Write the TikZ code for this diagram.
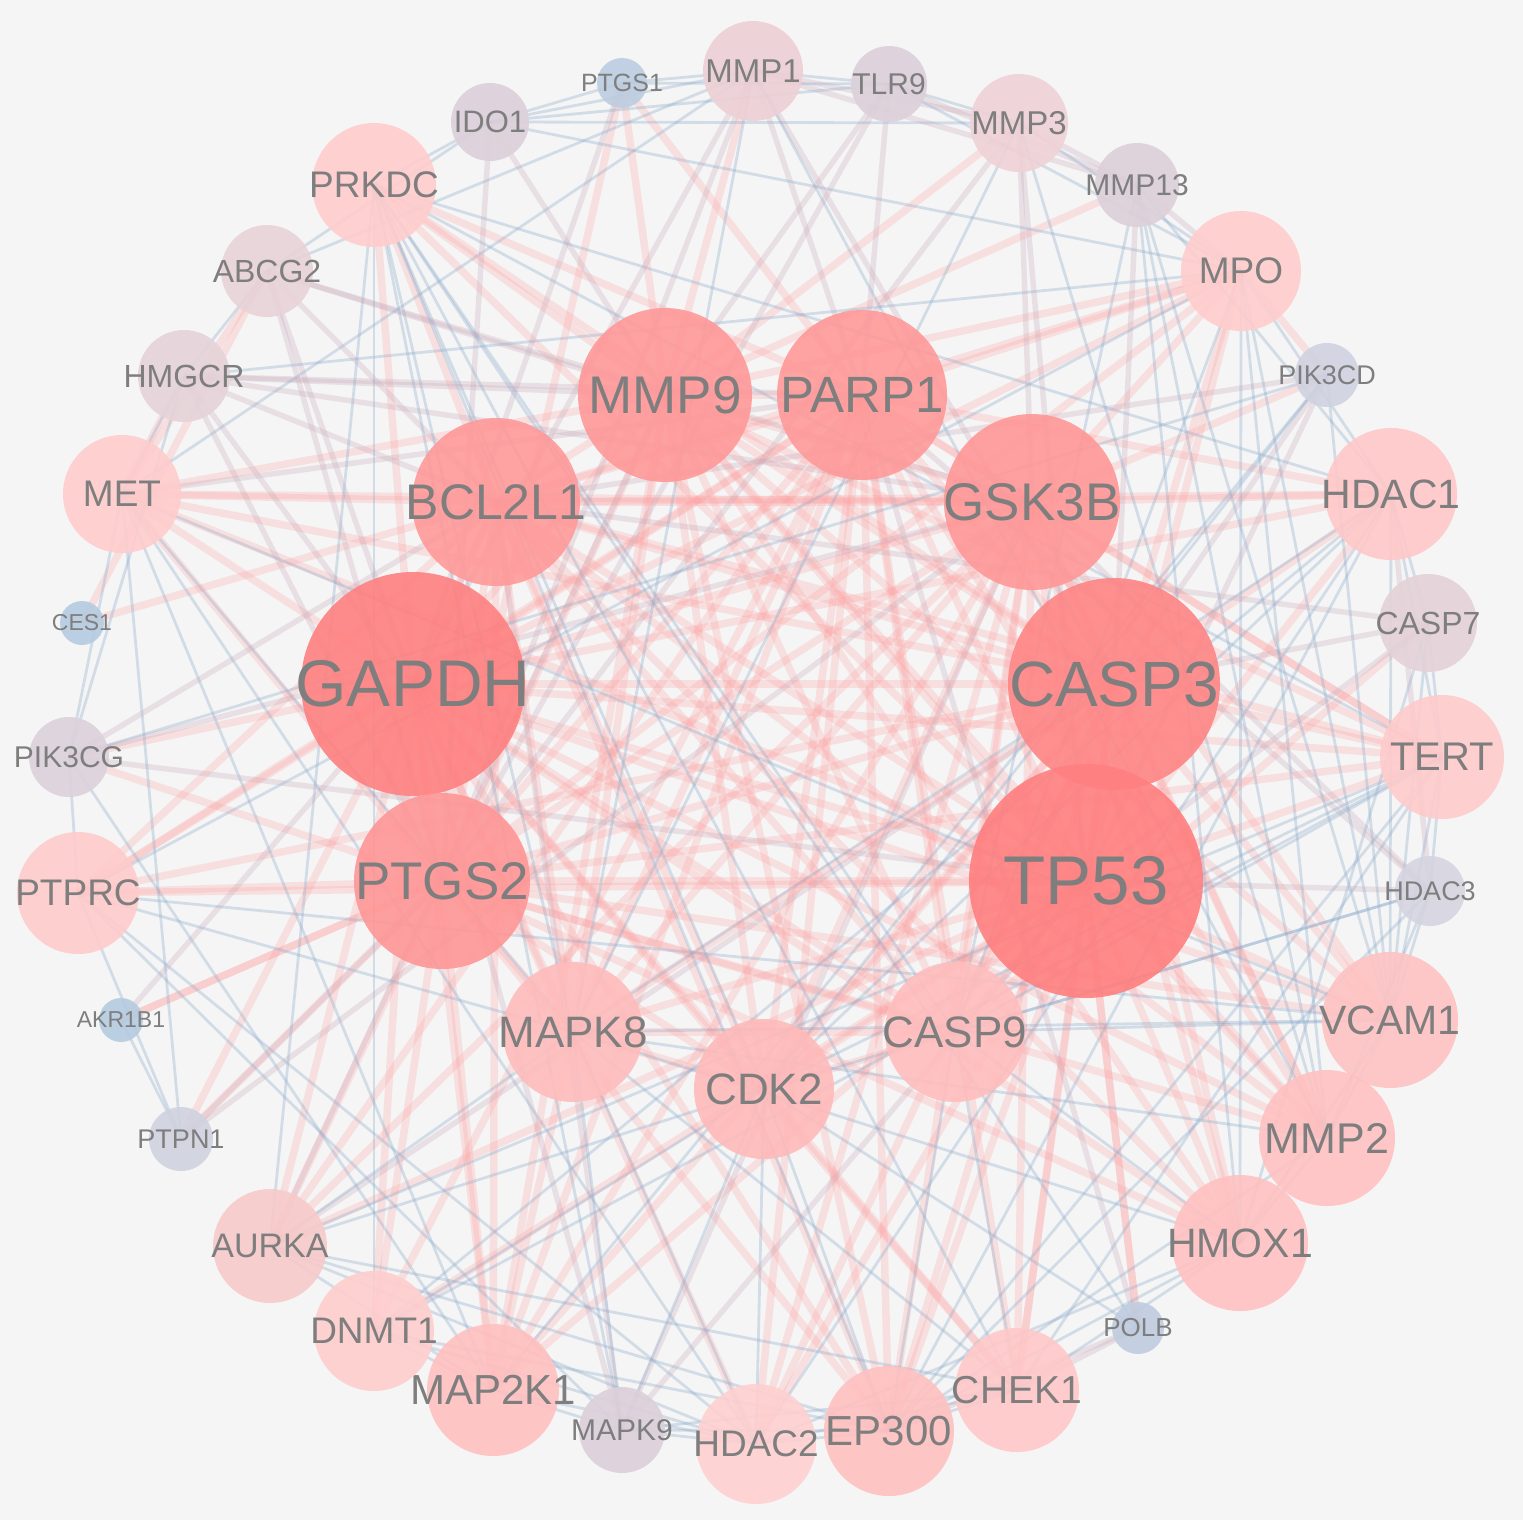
\documentclass[tikz,border=0pt]{standalone}
\usepackage{fontspec}
\setmainfont{Liberation Sans}
\pgfdeclarelayer{back}
\pgfdeclarelayer{edges}
\pgfsetlayers{back,edges,main}
\definecolor{bgc}{HTML}{F5F5F5}
\definecolor{txt}{HTML}{7E7E7E}
\definecolor{pkc}{HTML}{FF9C9C}
\definecolor{mvc}{HTML}{C8A8B8}
\definecolor{blc}{HTML}{8AAACC}
\tikzset{
  gnode/.style={circle, draw=none, inner sep=0pt, outer sep=0pt, fill opacity=0.9, text opacity=1, text=txt},
  pk/.style={line width=7.5pt, draw=pkc, draw opacity=0.24},
  mv/.style={line width=5.5pt, draw=mvc, draw opacity=0.28},
  bl/.style={line width=2.8pt, draw=blc, draw opacity=0.32},
}
\newcommand\gn[7]{%
  \definecolor{c#1}{HTML}{#5}%
  \node[gnode, fill=c#1, minimum size={2*#4pt}, font={\fontsize{#6pt}{#6pt}\selectfont}] (#1) at (#2,#3) {\makebox[0pt]{#7}};}
\begin{document}
\begin{tikzpicture}[x=1pt,y=-1pt]
\begin{pgfonlayer}{back}
\fill[bgc] (0,0) rectangle (1523,1520);
\end{pgfonlayer}
\useasboundingbox (0,0) rectangle (1523,1520);
% hubs
\gn{gapdh}{413}{684}{112}{FF8080}{66}{GAPDH}
\gn{casp3}{1114}{684}{106}{FF8585}{64}{CASP3}
\gn{tp53}{1086}{881}{117}{FF7F7F}{69}{TP53}
\gn{ptgs2}{442}{881}{88}{FF9696}{53}{PTGS2}
\gn{bcl}{496}{502}{84}{FF9999}{50}{BCL2L1}
\gn{mmp9}{665}{395}{87}{FF9898}{53}{MMP9}
\gn{parp1}{862}{395}{85}{FF9999}{51}{PARP1}
\gn{gsk}{1032}{502}{88}{FF9797}{53}{GSK3B}
% mid
\gn{mapk8}{573}{1032}{70}{FFBCBC}{44}{MAPK8}
\gn{casp9}{955}{1032}{70}{FFBDBD}{44}{CASP9}
\gn{cdk2}{764}{1089}{70}{FFBABA}{44}{CDK2}
% medium
\gn{prkdc}{374}{185}{62}{FFCDCD}{37}{PRKDC}
\gn{mpo}{1241}{271}{60}{FFCDCD}{37}{MPO}
\gn{met}{122}{494}{59}{FFCCCC}{37}{MET}
\gn{hdac1}{1391}{494}{66}{FFC8C8}{41}{HDAC1}
\gn{tert}{1442}{757}{62}{FFCBCB}{40}{TERT}
\gn{ptprc}{78}{893}{61}{FFCBCB}{37}{PTPRC}
\gn{vcam}{1390}{1020}{68}{FFC3C3}{41}{VCAM1}
\gn{mmp2}{1327}{1138}{68}{FFC1C1}{43}{MMP2}
\gn{hmox}{1240}{1243}{68}{FFC1C1}{41}{HMOX1}
\gn{chek1}{1017}{1390}{62}{FFC8C8}{39}{CHEK1}
\gn{ep300}{889}{1431}{65}{FFC0C0}{42}{EP300}
\gn{hdac2}{756}{1444}{60}{FFD0D0}{37}{HDAC2}
\gn{map2k1}{493}{1390}{66}{FFC0C0}{42}{MAP2K1}
\gn{dnmt1}{374}{1331}{60}{FFCECE}{37}{DNMT1}
\gn{aurka}{270}{1246}{57}{F8CACA}{34}{AURKA}
% small
\gn{mmp1}{753}{71}{50}{EDD0D5}{33}{MMP1}
\gn{mmp3}{1019}{123}{49}{EFD2D6}{33}{MMP3}
\gn{abcg2}{267}{271}{46}{E8D3D9}{32}{ABCG2}
\gn{hmgcr}{184}{376}{46}{E5D3D9}{32}{HMGCR}
\gn{casp7}{1428}{623}{49}{E4D2D8}{32}{CASP7}
\gn{pik3cg}{69}{757}{40}{DCD1DC}{30}{PIK3CG}
\gn{mapk9}{622}{1430}{43}{DCD0DA}{30}{MAPK9}
\gn{tlr9}{889}{84}{38}{DCD0DA}{30}{TLR9}
\gn{ido1}{490}{122}{39}{DCD0DA}{31}{IDO1}
\gn{mmp13}{1137}{185}{42}{DDD0D9}{30}{MMP13}
\gn{hdac3}{1430}{891}{35}{D5D4E0}{27}{HDAC3}
\gn{ptpn1}{181}{1139}{32}{D0D2DF}{27}{PTPN1}
\gn{pik3cd}{1327}{375}{32}{D0D2E0}{27}{PIK3CD}
\gn{ptgs1}{622}{83}{25}{BCCDE0}{25}{PTGS1}
\gn{ces1}{82}{623}{22}{B5CBE0}{23}{CES1}
\gn{akr1b1}{121}{1020}{22}{B5CBE0}{23}{AKR1B1}
\gn{polb}{1138}{1328}{26}{BFCCE0}{26}{POLB}
\begin{pgfonlayer}{edges}
% hub-hub
\foreach \a/\b in {gapdh/tp53, gapdh/casp3, gapdh/ptgs2, gapdh/bcl, gapdh/mmp9, gapdh/parp1, gapdh/gsk,
  tp53/casp3, tp53/ptgs2, tp53/bcl, tp53/mmp9, tp53/parp1, tp53/gsk,
  casp3/ptgs2, casp3/bcl, casp3/mmp9, casp3/parp1, casp3/gsk,
  ptgs2/bcl, ptgs2/mmp9, ptgs2/parp1, ptgs2/gsk, bcl/mmp9, bcl/parp1, bcl/gsk,
  mmp9/parp1, mmp9/gsk, parp1/gsk,
  mapk8/casp9, mapk8/cdk2, casp9/cdk2, mapk8/map2k1, cdk2/chek1, casp9/casp7}
  \draw[pk] (\a.center) -- (\b.center);
% hub spokes (pink)
\foreach \b in {mapk8, casp9, cdk2, prkdc, mpo, met, hdac1, tert, ptprc, vcam, mmp2, hmox, chek1, ep300, map2k1, dnmt1, aurka, hdac2, pik3cg, ptpn1}
  \draw[pk] (gapdh.center) -- (\b.center);
\foreach \b in {mapk8, casp9, cdk2, prkdc, mpo, met, hdac1, tert, ptprc, vcam, mmp2, hmox, chek1, ep300, hdac2, map2k1, dnmt1, aurka, polb}
  \draw[pk] (tp53.center) -- (\b.center);
\foreach \b in {mapk8, casp9, cdk2, prkdc, mpo, met, tert, ptprc, vcam, mmp2, hmox, chek1, ep300, hdac2, map2k1, hdac1}
  \draw[pk] (casp3.center) -- (\b.center);
\foreach \b in {mapk8, casp9, cdk2, mpo, met, tert, ptprc, vcam, mmp2, hmox, ep300, map2k1, dnmt1, aurka, ptgs1, akr1b1, ptpn1, pik3cg}
  \draw[pk] (ptgs2.center) -- (\b.center);
\foreach \b in {mapk8, casp9, cdk2, prkdc, met, hdac1, tert, ptprc, mmp2, hmox, ep300, map2k1, ces1, mpo}
  \draw[pk] (bcl.center) -- (\b.center);
\foreach \b in {mapk8, casp9, cdk2, mpo, met, tert, vcam, mmp2, hmox, ep300, map2k1, mmp1, mmp3, mmp13, ptgs1, prkdc}
  \draw[pk] (mmp9.center) -- (\b.center);
\foreach \b in {mapk8, casp9, cdk2, prkdc, mpo, hdac1, tert, ptprc, mmp2, chek1, ep300, hdac2, map2k1, dnmt1, aurka, ptgs1}
  \draw[pk] (parp1.center) -- (\b.center);
\foreach \b in {mapk8, casp9, cdk2, mpo, met, hdac1, tert, vcam, mmp2, hmox, chek1, ep300, hdac2, map2k1, aurka, pik3cd}
  \draw[pk] (gsk.center) -- (\b.center);
\foreach \a/\b in {ces1/abcg2, akr1b1/ptgs2, polb/tp53, pik3cd/mpo, abcg2/met, hmgcr/met}
  \draw[pk] (\a.center) -- (\b.center);
% mauve
\foreach \a/\b in {gapdh/mmp1, gapdh/abcg2, gapdh/hmgcr, gapdh/ptgs1, gapdh/akr1b1, gapdh/mapk9,
  tp53/hdac3, tp53/pik3cg, tp53/mmp3, tp53/pik3cd, tp53/mapk9, tp53/casp7,
  casp3/casp7, casp3/mmp1, casp3/pik3cd, casp3/aurka, casp3/mmp13,
  ptgs2/mmp1, ptgs2/mmp3, ptgs2/ido1, ptgs2/tlr9, ptgs2/hmgcr, ptgs2/abcg2,
  bcl/casp7, bcl/abcg2, bcl/pik3cd, bcl/hmgcr, bcl/mapk9,
  mmp9/tlr9, mmp9/ido1, mmp9/abcg2, mmp9/hmgcr, mmp9/aurka,
  parp1/polb, parp1/hdac3, parp1/mmp1, parp1/tlr9, parp1/met, parp1/hmgcr,
  gsk/mapk9, gsk/pik3cg, gsk/hmgcr, gsk/abcg2, gsk/hdac3, gsk/mmp3,
  mmp1/mmp3, mmp3/mmp13, tlr9/mmp13, mmp1/mmp13, mmp13/mpo, polb/chek1, polb/ep300,
  ptpn1/ptgs2, ptpn1/gsk, hdac3/hdac1, pik3cg/bcl}
  \draw[mv] (\a.center) -- (\b.center);
% blue
\foreach \a/\b in {mapk8/mapk9, mapk8/chek1, mapk8/hdac2, mapk8/vcam, mapk8/hmox, mapk8/mmp2, mapk8/prkdc, mapk8/mmp1, mapk8/mmp3, mapk8/met, mapk8/hdac1, mapk8/ptprc, mapk8/aurka,
  casp9/chek1, casp9/hmox, casp9/vcam, casp9/tert, casp9/mpo, casp9/mmp13, casp9/hdac3, casp9/prkdc, casp9/ep300,
  cdk2/hdac1, cdk2/hdac2, cdk2/aurka, cdk2/ep300, cdk2/dnmt1, cdk2/prkdc, cdk2/tert, cdk2/polb, cdk2/pik3cd, cdk2/mapk9, cdk2/hdac3,
  prkdc/chek1, prkdc/ep300, prkdc/tert, prkdc/hdac1, prkdc/ido1, prkdc/aurka, prkdc/dnmt1, prkdc/polb, prkdc/mapk9,
  mpo/hdac1, mpo/vcam, mpo/mmp2, mpo/hmox, mpo/ido1, mpo/tlr9, mpo/mmp3, mpo/ptprc,
  met/ptpn1, met/pik3cg, met/hmgcr, met/mmp1, met/vcam, met/map2k1, met/hdac2,
  hdac1/hdac2, hdac1/ep300, hdac1/dnmt1, hdac1/tert, hdac1/casp7, hdac1/vcam, hdac1/mmp13,
  tert/hdac3, tert/casp7, tert/vcam, tert/dnmt1, tert/aurka, tert/chek1, tert/ep300,
  ptprc/pik3cg, ptprc/ptpn1, ptprc/mapk9, ptprc/hdac2, ptprc/vcam,
  vcam/mmp2, vcam/hmox, vcam/hdac3, vcam/pik3cd, vcam/casp7, vcam/mmp13,
  mmp2/mmp13, mmp2/mmp3, mmp2/mmp1, mmp2/hmox, mmp2/ep300, mmp2/hdac3,
  hmox/chek1, hmox/ep300, hmox/hdac2, hmox/casp7, hmox/mmp13,
  chek1/hdac2, chek1/ep300, chek1/aurka, chek1/mapk9,
  ep300/hdac2, ep300/hdac3, ep300/dnmt1, ep300/mapk9, ep300/aurka,
  hdac2/dnmt1, hdac2/mapk9, hdac2/aurka,
  map2k1/aurka, map2k1/mapk9, map2k1/dnmt1, map2k1/hdac2, map2k1/pik3cd, map2k1/pik3cg,
  mmp1/tlr9, mmp1/ptgs1, mmp1/ido1, mmp1/abcg2, mmp3/tlr9, mmp3/ido1,
  tlr9/ido1, tlr9/ptgs1, ido1/ptgs1, ido1/abcg2, abcg2/hmgcr, hmgcr/pik3cg, hmgcr/mpo,
  pik3cg/pik3cd, akr1b1/ptpn1}
  \draw[bl] (\a.center) -- (\b.center);
\end{pgfonlayer}
\end{tikzpicture}
\end{document}
